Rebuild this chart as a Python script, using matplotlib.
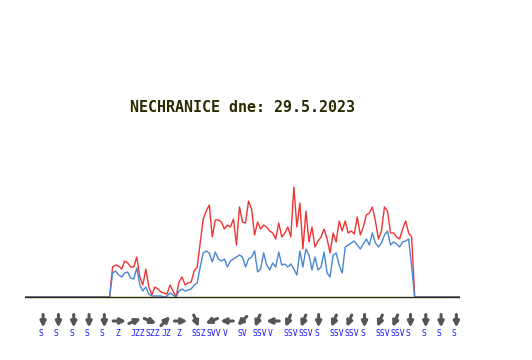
import numpy as np
import matplotlib
matplotlib.use("Agg")
import matplotlib.pyplot as plt

# 10-minute samples, wind in m/s; the day starts calm, data begins at sample 29
title = "NECHRANICE dne: 29.5.2023"
step_min = 10
first_sample = 29

gusts = [
    3.0, 3.2, 3.1, 2.8, 3.6, 3.4, 3.0, 3.0, 4.0, 2.0,
    1.2, 2.8, 1.0, 0.2, 1.0, 0.8, 0.5, 0.4, 0.3, 1.2,
    0.6, 0.0, 1.5, 2.0, 1.2, 1.4, 1.5, 2.6, 3.0, 5.4,
    7.8, 8.6, 9.2, 6.0, 7.7, 7.7, 7.5, 6.8, 7.2, 7.0,
    7.8, 5.2, 9.0, 7.5, 7.4, 9.6, 8.8, 6.2, 7.5, 6.8,
    7.2, 7.0, 6.6, 6.4, 5.8, 7.4, 6.0, 6.4, 7.0, 6.0,
    11.0, 7.0, 9.4, 4.8, 8.6, 5.5, 7.0, 5.0, 5.6, 6.0,
    6.8, 5.8, 4.4, 6.4, 5.5, 7.6, 6.6, 7.6, 6.4, 6.6,
    6.3, 8.0, 6.2, 7.0, 8.2, 8.4, 9.0, 7.6, 5.8, 6.6,
    9.0, 8.6, 6.4, 6.4, 6.0, 5.8, 6.8, 7.6, 6.4, 6.0,
]
speed = [
    2.4, 2.6, 2.2, 2.0, 2.4, 2.5, 1.9, 1.8, 2.9, 1.2,
    0.6, 1.0, 0.3, 0.1, 0.1, 0.1, 0.1, 0.0, 0.1, 0.4,
    0.2, 0.0, 0.6, 0.8, 0.6, 0.7, 0.8, 1.2, 1.4, 3.0,
    4.4, 4.6, 4.4, 3.5, 4.5, 3.8, 3.6, 3.8, 3.0, 3.6,
    3.8, 4.0, 4.2, 4.0, 3.0, 3.8, 4.0, 4.6, 2.5, 2.8,
    4.4, 3.2, 2.7, 3.4, 3.0, 4.5, 3.2, 3.3, 3.0, 3.3,
    2.8, 2.2, 4.6, 3.0, 4.8, 4.2, 2.7, 4.0, 2.7, 3.0,
    4.5, 2.4, 2.0, 4.2, 4.4, 3.2, 2.4, 5.0, 5.2, 5.4,
    5.6, 5.2, 4.8, 5.3, 5.8, 5.2, 6.4, 5.4, 5.0, 5.4,
    6.2, 6.6, 5.2, 5.5, 5.3, 5.0, 5.5, 5.6, 5.8, 3.0,
]

# wind direction (Czech abbreviations: S=north, J=south, V=east, Z=west)
directions = ["S", "S", "S", "S", "S", "Z", "JZZ", "SZZ", "JZ", "Z",
              "SSZ", "SVV", "V", "SV", "SSV", "V", "SSV", "SSV", "S", "SSV",
              "SSV", "S", "SSV", "SSV", "S", "S", "S", "S"]

bearing = {"S": 0, "SSV": 22.5, "SV": 45, "SVV": 67.5, "V": 90,
           "J": 180, "JZ": 225, "JZZ": 247.5, "Z": 270, "SZZ": 292.5,
           "SZ": 315, "SSZ": 337.5}

n_day = 24 * 60 // step_min
pad_after = n_day - first_sample - len(gusts)


def full_day(vals):
    v = np.concatenate([np.zeros(first_sample), vals, np.zeros(pad_after)])
    return np.append(v, 0.0)


hours = np.arange(n_day + 1) * step_min / 60
g = full_day(gusts)
s = full_day(speed)

W, H = 532, 360
fig = plt.figure(figsize=(W / 100, H / 100), dpi=100)
fig.patch.set_facecolor("white")

left_px, right_px, zero_px, top_px = 25, 460, 297, 150
ax = fig.add_axes([left_px / W, (H - zero_px - 3) / H,
                   (right_px - left_px) / W, (zero_px + 3 - top_px) / H])
ax.set_xlim(0, 24)
ax.set_ylim(-0.3, 14.7)
ax.axis("off")

ax.plot(hours, g, color="#f03434", lw=1.0)
ax.plot(hours, s, color="#4a86d2", lw=1.0)
ax.axhline(0.05, color="#2a2a00", lw=1.0, zorder=5)

fig.text(242.5 / W, 1 - 107 / H, title, ha="center", va="center",
         family="DejaVu Sans Mono", fontweight="bold", fontsize=10.8,
         color="#2a2a00")

# direction arrows and labels below the chart
ov = fig.add_axes([left_px / W, 0, (right_px - left_px) / W, 1])
ov.set_xlim(0, 24)
ov.set_ylim(0, H)
ov.axis("off")
px_per_h = (right_px - left_px) / 24
arrow_h = np.linspace(1.0, 23.8, len(directions))
half = 6.5
for t, d in zip(arrow_h, directions):
    b = np.deg2rad(bearing[d] + 180)
    dx, dy = np.sin(b) * half, np.cos(b) * half
    yc = H - 321
    ov.annotate("", xy=(t + dx / px_per_h, yc + dy),
                xytext=(t - dx / px_per_h, yc - dy),
                arrowprops=dict(arrowstyle="-|>", color="#555555", lw=2.2,
                                mutation_scale=8, shrinkA=0, shrinkB=0))
    ov.text(t - 4.5 / px_per_h, H - 333.5, d, ha="left", va="center",
            family="DejaVu Sans Mono", fontsize=5.8, color="#1a1aff")

fig.savefig("out.png", dpi=100)
